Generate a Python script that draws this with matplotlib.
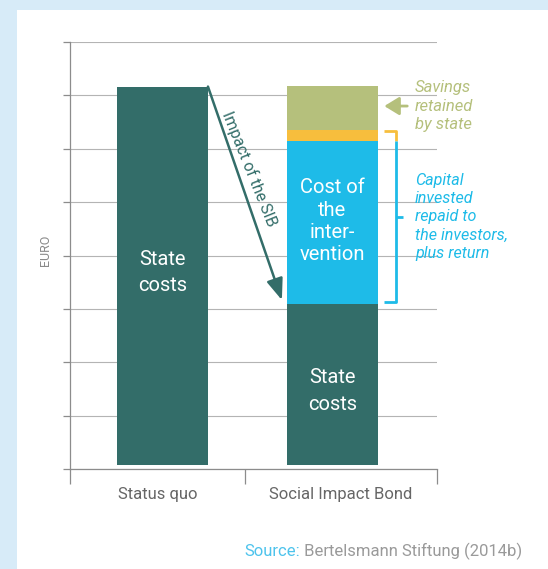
import numpy as np
import matplotlib
matplotlib.use("Agg")
import matplotlib.pyplot as plt
from matplotlib.patches import Rectangle

plt.rcParams['font.family'] = ['Liberation Sans Narrow', 'Roboto', 'DejaVu Sans']

# data (arbitrary EURO units, gridline spacing = 1)
categories = ["Status quo", "Social Impact Bond"]
status_quo_costs = 7.09
sib_state_costs = 3.02
sib_intervention = 3.05
sib_return = 0.21
sib_savings = 0.82
bar_labels = ["State\ncosts", "Cost of\nthe\ninter-\nvention"]

teal = "#336d69"
blue = "#1ebbe8"
orange = "#f7be3d"
olive = "#b5c07c"
grid_c = "#b4b4b4"
axis_c = "#8c8c8c"

fig = plt.figure(figsize=(5.48, 5.69), dpi=100)
fig.patch.set_facecolor("#d7ebf8")
fig.add_artist(Rectangle((17 / 548, 0), 1, 1 - 10 / 569, transform=fig.transFigure,
                         facecolor="white", edgecolor="none", zorder=0))

ax = fig.add_axes([70 / 548, 1 - 469 / 569, 367 / 548, 427 / 569])
ax.set_facecolor("none")

x = np.array([0, 1])
w = 0.535
base = 0.075
ax.set_xlim(-0.544, 1.615)
ax.set_ylim(0, 8)

# bars
ax.bar(x[0], status_quo_costs, w, bottom=base, color=teal, zorder=2)
b = base
for val, col in [(sib_state_costs, teal), (sib_intervention, blue),
                 (sib_return, orange), (sib_savings, olive)]:
    ax.bar(x[1], val, w, bottom=b, color=col, zorder=2)
    b += val

sq_top = base + status_quo_costs
state_top = base + sib_state_costs
interv_top = state_top + sib_intervention
ret_top = interv_top + sib_return
sav_top = ret_top + sib_savings

# grid & axes
ax.set_yticks(np.arange(0, 9))
ax.set_yticklabels([])
ax.yaxis.grid(True, color=grid_c, lw=0.8, zorder=1)
ax.tick_params(axis='y', length=5, width=0.9, color=axis_c)
for s in ['top', 'right']:
    ax.spines[s].set_visible(False)
for s in ['left', 'bottom']:
    ax.spines[s].set_color(axis_c)
    ax.spines[s].set_linewidth(0.9)

bounds = [ax.get_xlim()[0], 0.485, ax.get_xlim()[1]]
ax.set_xticks(bounds)
ax.set_xticklabels([])
ax.tick_params(axis='x', which='major', length=11, width=0.9, color=axis_c)
mids = [(bounds[0] + bounds[1]) / 2, (bounds[1] + bounds[2]) / 2]
ax.set_xticks(mids, minor=True)
ax.set_xticklabels(categories, minor=True, fontsize=12, color="#666666")
ax.tick_params(axis='x', which='minor', length=0, pad=13)

# labels inside bars
ax.text(x[0], 3.68, bar_labels[0], color="white", fontsize=14.5, ha='center', va='center',
        linespacing=1.5, zorder=3)
ax.text(x[1], (state_top + interv_top) / 2 + 0.02, bar_labels[1], color="white", fontsize=14.5,
        ha='center', va='center', linespacing=1.22, zorder=3)
ax.text(x[1], 1.46, bar_labels[0], color="white", fontsize=14.5, ha='center', va='center',
        linespacing=1.5, zorder=3)

# impact arrow
ax.annotate("", xy=(x[1] - w / 2 - 0.03, state_top + 0.07), xytext=(x[0] + w / 2, sq_top),
            arrowprops=dict(arrowstyle='-|>,head_length=1.3,head_width=0.5', color=teal,
                            lw=1.8, shrinkA=0, shrinkB=0, mutation_scale=10), zorder=4)
ax.text(0.51, 5.62, "Impact of the SIB", color=teal, fontsize=11.5, rotation=-68,
        rotation_mode='anchor', ha='center', va='center', zorder=4)

# savings annotation
ax.annotate("", xy=(1.305, 6.80), xytext=(1.44, 6.80),
            arrowprops=dict(arrowstyle='-|>,head_length=0.9,head_width=0.55', color=olive,
                            lw=2.0, shrinkA=0, shrinkB=0, mutation_scale=10),
            annotation_clip=False)
ax.text(1.485, 6.80, "Savings\nretained\nby state", color=olive, fontsize=12, style='italic',
        ha='left', va='center', linespacing=1.3)

# bracket
bx, bl, bm = 1.374, 1.303, 1.415
lw_b = 2.0
ax.plot([bl, bx, bx], [ret_top - 0.03, ret_top - 0.03, interv_top], color=orange, lw=lw_b,
        solid_capstyle='butt', clip_on=False)
ax.plot([bx, bx, bl], [interv_top, state_top + 0.03, state_top + 0.03], color=blue, lw=lw_b,
        solid_capstyle='butt', clip_on=False)
mid = (state_top + ret_top) / 2
ax.plot([bx, bm], [mid, mid], color=blue, lw=lw_b, solid_capstyle='butt', clip_on=False)
ax.text(1.485, mid, "Capital\ninvested\nrepaid to\nthe investors,\nplus return", color=blue,
        fontsize=11.6, style='italic', ha='left', va='center', linespacing=1.27)

# y label
fig.text(46 / 548, 1 - 250 / 569, "EURO", rotation=90, color="#8a8a8a", fontsize=9,
         ha='center', va='center')

# source
t1 = fig.text(244 / 548, 1 - 551 / 569, "Source:", color="#4dc3ec", fontsize=12,
              ha='left', va='center')
ax.annotate(" Bertelsmann Stiftung (2014b)", xy=(1, 0.5), xycoords=t1, color="#9a9a9a",
            fontsize=12, ha='left', va='center', annotation_clip=False)

fig.savefig("out.png", dpi=100, facecolor=fig.get_facecolor())
